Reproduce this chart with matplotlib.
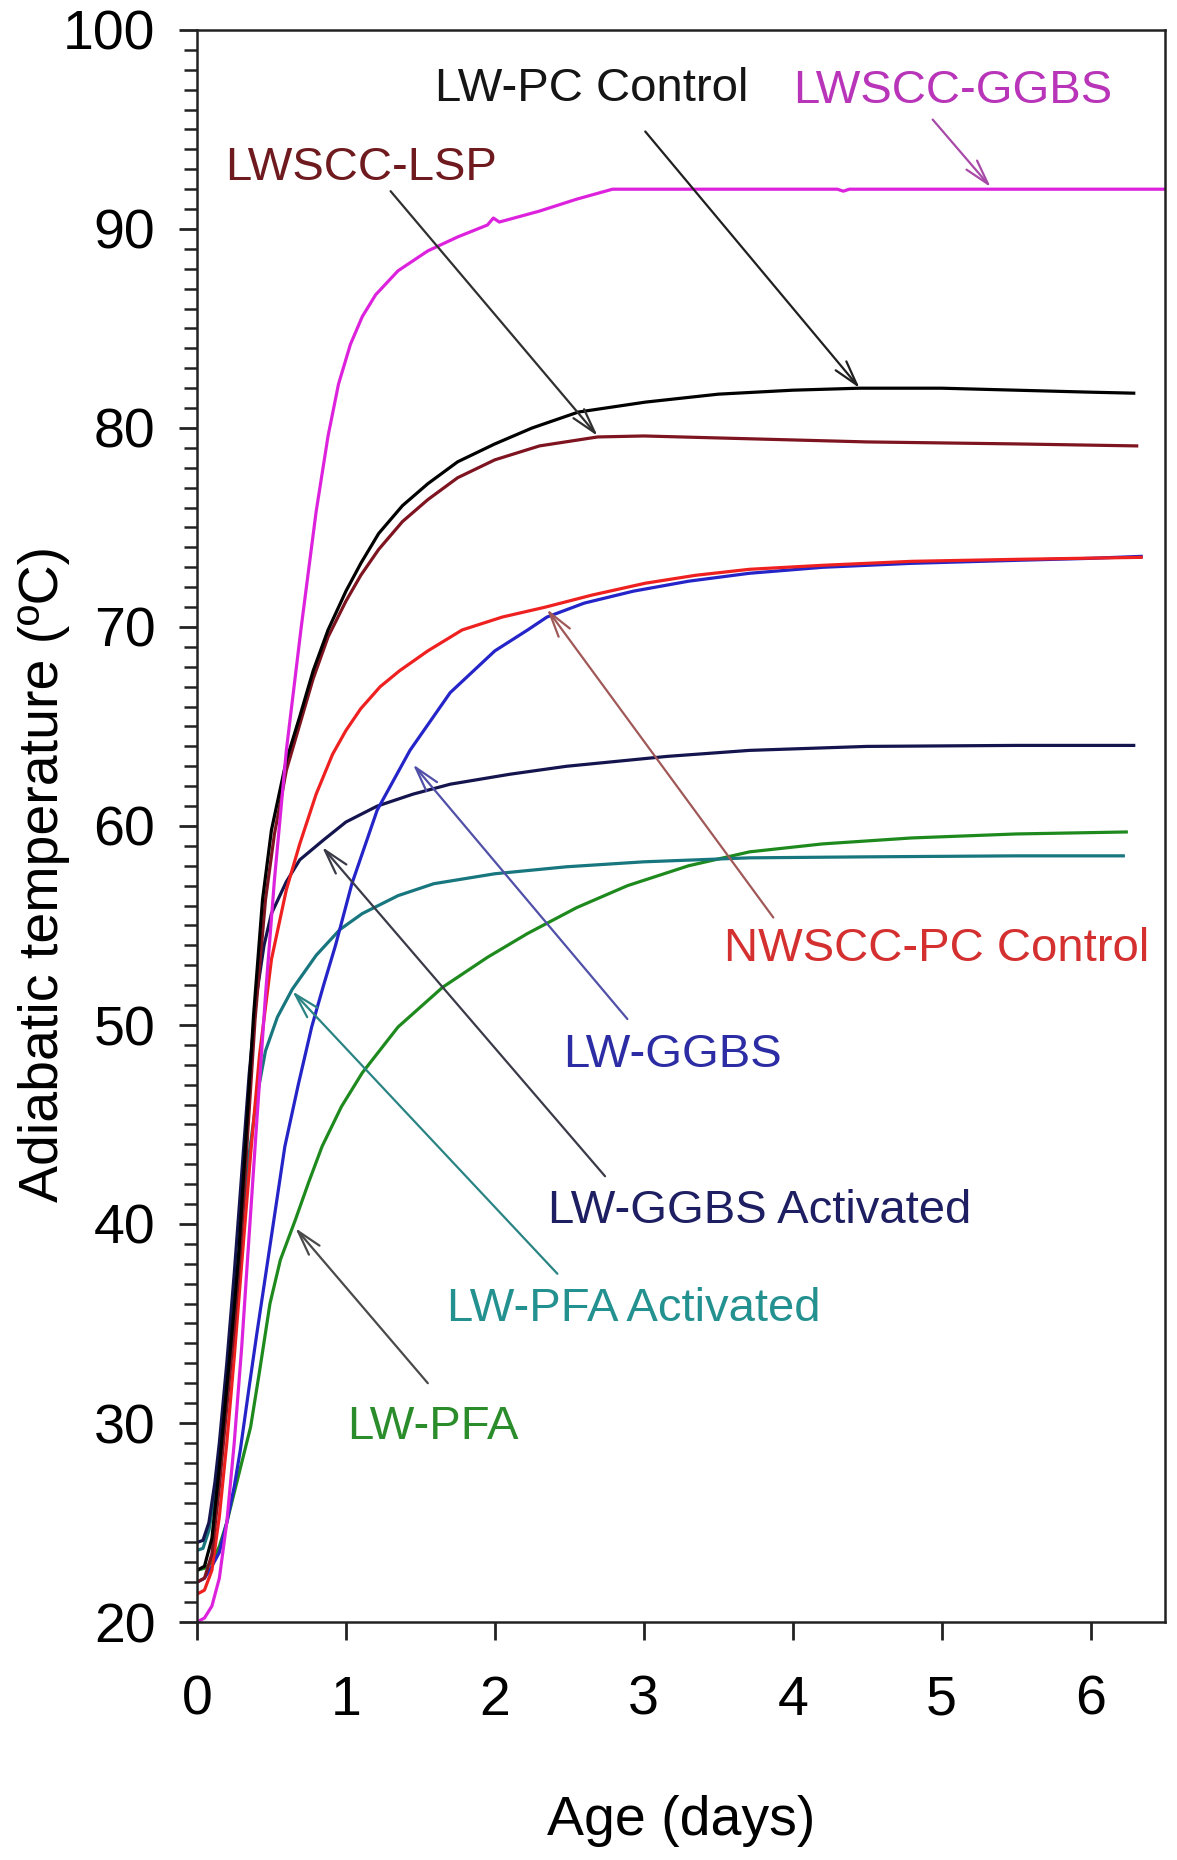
import numpy as np
import matplotlib.pyplot as plt
from matplotlib.ticker import MultipleLocator

plt.rcParams['font.family'] = ['Liberation Sans', 'DejaVu Sans']

#%% Adiabatic temperature rise, age in days / temperature in degC

# LWSCC-GGBS
ggbs_scc_day = [0, 0.05, 0.1, 0.15, 0.2, 0.25, 0.3, 0.34, 0.4, 0.46, 0.52, 0.6, 0.7, 0.8, 0.88, 0.95,
                1.03, 1.11, 1.2, 1.35, 1.55, 1.75, 1.95, 1.99, 2.03, 2.3, 2.55, 2.79, 4.3, 4.34, 4.38, 6.5]
ggbs_scc_temp = [20.0, 20.2, 20.8, 22.2, 25.0, 29.0, 33.8, 38.3, 45.0, 51.5, 57.3, 63.8, 70.0, 75.8, 79.6, 82.2,
                 84.2, 85.6, 86.7, 87.9, 88.9, 89.6, 90.2, 90.55, 90.35, 90.9, 91.5, 92.0, 92.0, 91.9, 92.0, 92.0]

# LW-PC Control
pc_day = [0, 0.05, 0.1, 0.15, 0.2, 0.25, 0.28, 0.33, 0.38, 0.44, 0.5, 0.6, 0.69, 0.78, 0.88, 1.0, 1.1,
          1.22, 1.38, 1.55, 1.75, 2.0, 2.25, 2.56, 3.01, 3.5, 4.0, 4.45, 5.0, 5.5, 6.0, 6.29]
pc_temp = [22.6, 22.8, 24.2, 27.8, 31.8, 35.8, 38.5, 44.5, 50.5, 56.3, 59.8, 63.3, 65.5, 67.8, 69.85, 71.8, 73.2,
           74.7, 76.1, 77.2, 78.3, 79.2, 80.0, 80.8, 81.3, 81.7, 81.9, 82.0, 82.0, 81.9, 81.8, 81.75]

# LWSCC-LSP
lsp_day = [0, 0.05, 0.1, 0.15, 0.2, 0.25, 0.29, 0.34, 0.39, 0.46, 0.52, 0.6, 0.69, 0.78, 0.88, 1.0, 1.1,
           1.22, 1.38, 1.55, 1.75, 2.0, 2.3, 2.69, 3.0, 3.5, 4.0, 4.5, 5.0, 5.5, 6.31]
lsp_temp = [22.0, 22.2, 23.4, 26.8, 30.8, 34.8, 38.5, 44.5, 50.3, 56.3, 59.6, 62.8, 65.1, 67.4, 69.5, 71.3, 72.6,
            73.9, 75.3, 76.4, 77.5, 78.4, 79.1, 79.55, 79.6, 79.5, 79.4, 79.3, 79.25, 79.2, 79.1]

# NWSCC-PC Control
nw_day = [0, 0.05, 0.1, 0.15, 0.2, 0.25, 0.3, 0.36, 0.42, 0.5, 0.6, 0.69, 0.8, 0.91, 1.0, 1.1, 1.23, 1.36,
          1.55, 1.78, 2.05, 2.34, 2.65, 3.01, 3.35, 3.71, 4.2, 4.8, 5.5, 6.34]
nw_temp = [21.4, 21.6, 22.6, 25.3, 29.0, 33.3, 38.0, 43.5, 48.5, 53.3, 56.8, 59.1, 61.6, 63.6, 64.8, 65.9, 67.0, 67.8,
           68.8, 69.85, 70.5, 71.0, 71.6, 72.2, 72.6, 72.9, 73.1, 73.3, 73.4, 73.5]

# LW-GGBS
ggbs_day = [0, 0.05, 0.1, 0.15, 0.2, 0.25, 0.29, 0.35, 0.4, 0.48, 0.59, 0.68, 0.77, 0.85, 0.93, 1.04, 1.21,
            1.43, 1.7, 2.0, 2.22, 2.35, 2.6, 2.93, 3.3, 3.71, 4.2, 4.8, 5.5, 6.0, 6.34]
ggbs_temp = [22.0, 22.2, 22.8, 23.5, 25.0, 26.8, 28.6, 31.8, 34.4, 38.4, 43.9, 47.0, 49.9, 52.0, 54.0, 57.1, 60.8,
             63.8, 66.7, 68.8, 69.85, 70.5, 71.2, 71.8, 72.3, 72.7, 73.0, 73.2, 73.35, 73.45, 73.55]

# LW-GGBS Activated
ggbs_act_day = [0, 0.04, 0.08, 0.12, 0.15, 0.2, 0.25, 0.3, 0.35, 0.4, 0.45, 0.5, 0.6, 0.69, 0.85, 1.0, 1.21,
                1.45, 1.7, 2.1, 2.48, 3.16, 3.71, 4.5, 5.5, 6.29]
ggbs_act_temp = [24.0, 24.1, 25.0, 27.0, 29.0, 33.0, 37.5, 42.5, 47.5, 51.5, 54.0, 55.6, 57.2, 58.3, 59.3, 60.2, 61.0,
                 61.6, 62.1, 62.6, 63.0, 63.5, 63.8, 64.0, 64.05, 64.05]

# LW-PFA Activated
pfa_act_day = [0, 0.04, 0.08, 0.12, 0.16, 0.2, 0.25, 0.3, 0.35, 0.4, 0.46, 0.54, 0.64, 0.8, 0.96, 1.11,
               1.35, 1.59, 2.0, 2.48, 3.0, 3.71, 4.5, 5.5, 6.22]
pfa_act_temp = [23.6, 23.7, 24.6, 26.5, 29.0, 32.0, 36.0, 40.0, 43.5, 46.3, 48.7, 50.4, 51.8, 53.5, 54.8, 55.6,
                56.5, 57.1, 57.6, 57.95, 58.2, 58.4, 58.45, 58.5, 58.5]

# LW-PFA
pfa_day = [0, 0.05, 0.1, 0.15, 0.2, 0.25, 0.3, 0.36, 0.42, 0.49, 0.56, 0.66, 0.75, 0.84, 0.97, 1.11, 1.35,
           1.65, 1.95, 2.22, 2.55, 2.89, 3.3, 3.71, 4.2, 4.8, 5.5, 6.24]
pfa_temp = [22.6, 22.7, 23.0, 23.8, 25.0, 26.5, 28.0, 29.8, 32.6, 36.0, 38.2, 40.2, 42.1, 43.9, 45.9, 47.6, 49.9,
            51.9, 53.4, 54.6, 55.9, 57.0, 58.0, 58.7, 59.1, 59.4, 59.6, 59.7]

#%% Plot

fig = plt.figure(figsize=(11.77, 18.6), dpi=100)
ax = fig.add_axes([197/1177, 1 - 1622/1860, 968/1177, 1592/1860])

lw = 2.3
ax.plot(pfa_day, pfa_temp, color='#1e8a1e', lw=lw)
ax.plot(pfa_act_day, pfa_act_temp, color='#17767e', lw=lw)
ax.plot(ggbs_act_day, ggbs_act_temp, color='#14144e', lw=lw)
ax.plot(ggbs_day, ggbs_temp, color='#2424c8', lw=lw)
ax.plot(nw_day, nw_temp, color='#ee2020', lw=lw)
ax.plot(lsp_day, lsp_temp, color='#7e1420', lw=lw)
ax.plot(pc_day, pc_temp, color='black', lw=lw)
ax.plot(ggbs_scc_day, ggbs_scc_temp, color='#dd22dd', lw=lw)

# labels: text, x, baseline y, colour / arrows: tail, head, colour
labels = [
    ('LW-PC Control', 1.60, 96.45, '#151515'),
    ('LWSCC-GGBS', 4.00, 96.35, '#b834b8'),
    ('LWSCC-LSP', 0.19, 92.45, '#6e1a1e'),
    ('NWSCC-PC Control', 3.54, 53.2, '#d43030'),
    ('LW-GGBS', 2.46, 47.9, '#2c2ca4'),
    ('LW-GGBS Activated', 2.36, 40.05, '#1e1e62'),
    ('LW-PFA Activated', 1.68, 35.15, '#23918f'),
    ('LW-PFA', 1.01, 29.2, '#2a8c2a'),
]
arrows = [
    ((3.01, 94.9), (4.45, 82.0), '#202020'),
    ((4.94, 95.5), (5.33, 92.1), '#a84aa8'),
    ((1.30, 91.9), (2.69, 79.6), '#303030'),
    ((3.87, 55.4), (2.35, 70.9), '#a05858'),
    ((2.89, 50.3), (1.45, 63.1), '#5050a8'),
    ((2.74, 42.4), (0.84, 58.95), '#3a3a48'),
    ((2.42, 37.5), (0.64, 51.7), '#2a8484'),
    ((1.55, 32.0), (0.66, 39.8), '#4a4a4a'),
]

for txt, x, y, c in labels:
    ax.text(x, y, txt, color=c, fontsize=34, ha='left', va='baseline')

for tail, head, c in arrows:
    ax.annotate('', xy=head, xytext=tail,
                arrowprops=dict(arrowstyle='->,head_length=0.9,head_width=0.25',
                                color=c, lw=1.6, mutation_scale=20,
                                shrinkA=0, shrinkB=0))

ax.set_xlim(0, 6.5)
ax.set_ylim(20, 100)
ax.set_xticks(range(0, 7))
ax.set_yticks(range(20, 101, 10))
ax.yaxis.set_minor_locator(MultipleLocator(1))

ax.tick_params(which='major', direction='out', length=13, width=2, labelsize=40,
               top=False, right=False, color='#222222')
ax.tick_params(which='minor', direction='out', length=9.5, width=1.8,
               top=False, right=False, color='#222222')
ax.tick_params(axis='x', which='minor', bottom=False)
ax.tick_params(axis='x', pad=25)
ax.tick_params(axis='y', pad=17)
for sp in ax.spines.values():
    sp.set_linewidth(1.8)
    sp.set_color('#222222')

ax.set_xlabel('Age (days)', fontsize=40, va='center')
ax.xaxis.set_label_coords(0.5, -0.125)
ax.set_ylabel('Adiabatic temperature (ºC)', fontsize=40, va='center')
ax.yaxis.set_label_coords(-0.158, 0.47)

fig.savefig('out.png', dpi=100)
